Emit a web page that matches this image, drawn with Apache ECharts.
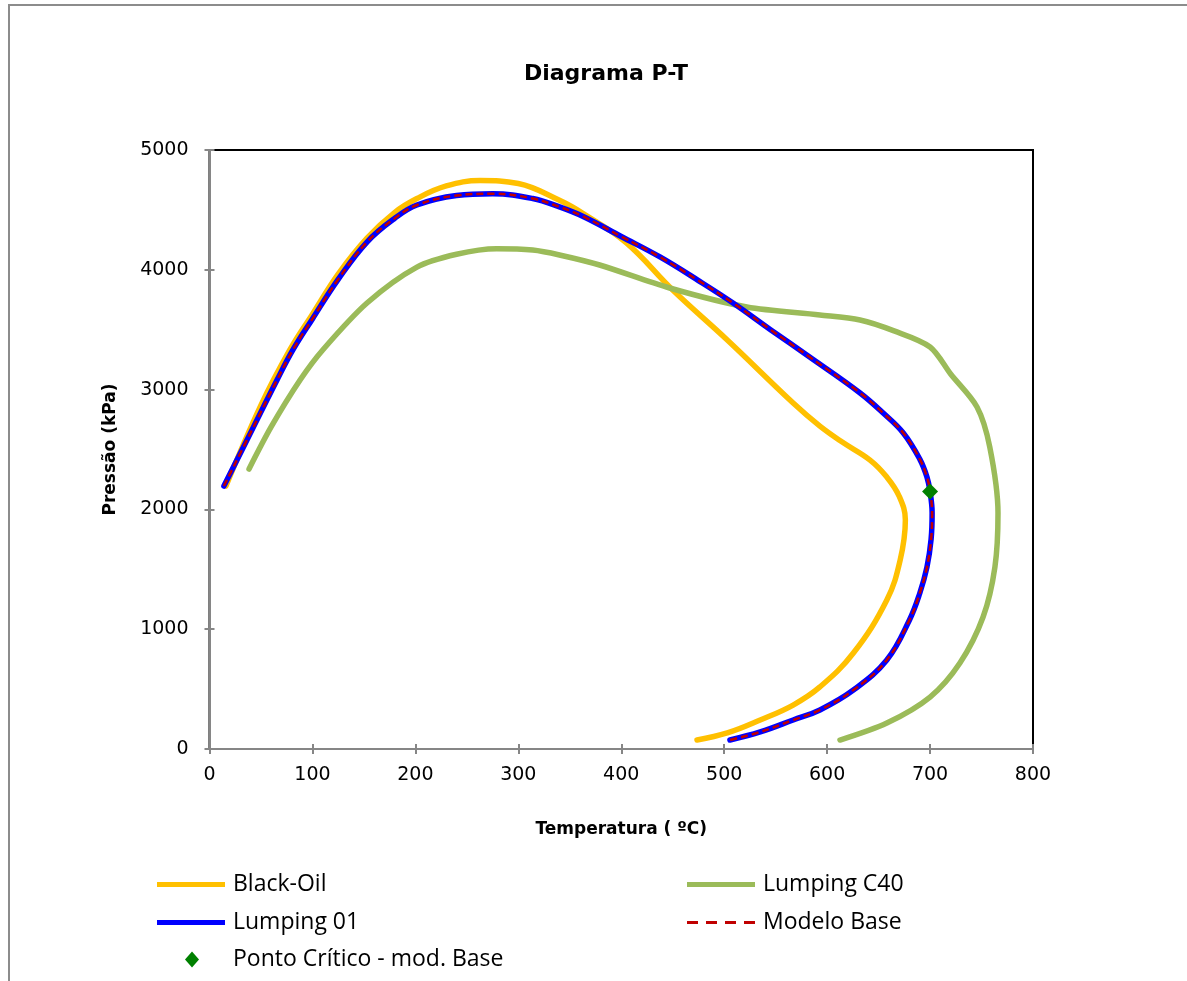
<!DOCTYPE html>
<html>
<head>
<meta charset="utf-8">
<script src="https://cdn.jsdelivr.net/npm/echarts@6/dist/echarts.min.js"></script>
<style>
html,body{margin:0;padding:0;background:#fff;}
#chart{width:1187px;height:981px;}
</style>
</head>
<body>
<div id="chart"></div>
<script>
// ---- data (T in ºC, P in kPa) ----
const titleText = 'Diagrama P-T';
const xName = 'Temperatura ( ºC)';
const yName = 'Pressão (kPa)';
const xTicks = [0, 100, 200, 300, 400, 500, 600, 700, 800];
const yTicks = [0, 1000, 2000, 3000, 4000, 5000];
const seriesNames = ['Black-Oil', 'Lumping C40', 'Lumping 01', 'Modelo Base', 'Ponto Crítico - mod. Base'];

const blackOil = [
  [16,2195],[50,2870],[78,3331],[100,3630],[125,3965],[153,4265],[180,4480],[201.5,4595],[230,4700],
  [263,4745],[300,4720],[340,4580],[363,4470],[405,4224],[450,3831],[503,3414],[567,2888],
  [593,2695],[615,2560],[641.7,2412],[658,2270],[670,2110],[676,1911],[671,1578],[658,1244],[625.5,801],
  [593,518],[567,367],[535,242],[503,134],[473.6,75]
];
const lumpingC40 = [
  [38.4,2337],[60,2690],[88,3080],[110,3331],[153,3723],[201.5,4023],[240,4130],[279,4176],
  [314,4165],[340,4124],[379,4040],[447,3848],[522,3689],[593,3623],[632,3581],[665,3490],
  [700,3356],[720,3130],[745.6,2855],[758,2521],[766,1970],[763,1519],[751.5,1102],[729,718],
  [700,434],[658,217],[612.5,75]
];
const lumping01 = [
  [14,2195],[40,2641],[65.6,3080],[81,3331],[100,3590],[125,3920],[153,4232],[180,4430],[201.5,4541],
  [240,4620],[275,4635],[314,4595],[340,4525],[363,4445],[400,4278],[437.6,4107],[475,3910],
  [508.6,3723],[545,3500],[583,3272],[632,2972],[655,2800],[674,2638],[690,2420],[697,2270],
  [700,2148],[702,1970],[701,1750],[697,1519],[690,1300],[680,1077],[658,743],[625.5,492],
  [593,326],[567,242],[535,142],[505.6,75]
];
const modeloBase = [
  [14,2195],[40,2641],[65.6,3080],[81,3331],[100,3590],[125,3920],[153,4232],[180,4430],[201.5,4541],
  [240,4620],[275,4635],[314,4595],[340,4525],[363,4445],[400,4278],[437.6,4107],[475,3910],
  [508.6,3723],[545,3500],[583,3272],[632,2972],[655,2800],[674,2638],[690,2420],[697,2270],
  [700,2148],[702,1970],[701,1750],[697,1519],[690,1300],[680,1077],[658,743],[625.5,492],
  [593,326],[567,242],[535,142],[505.6,75]
];
const pontoCritico = [[700,2150]];

// ---- chart ----
const chart = echarts.init(document.getElementById('chart'), null, {renderer:'canvas'});
const xMin = xTicks[0], xMax = xTicks[xTicks.length-1], xStep = xTicks[1]-xTicks[0];
const yMin = yTicks[0], yMax = yTicks[yTicks.length-1], yStep = yTicks[1]-yTicks[0];
const tickFont = {fontFamily:'DejaVu Sans', fontSize:19, color:'#000'};
const legendFont = {fontFamily:'Open Sans', fontSize:23, color:'#000', padding:[0,0,0,3]};
const gray = '#868686';
const solidIcon = 'path://M0,0H68V5H0Z';
const dashIcon = 'path://M0,0h11v3h-11z M19,0h11v3h-11z M38,0h11v3h-11z M57,0h11v3h-11z';

function leg(name, icon, left, top, w, h, textStyle) {
  return {data:[{name:name, icon:icon}], left:left, top:top, itemWidth:w, itemHeight:h, itemGap:0,
          textStyle:textStyle || legendFont, selectedMode:false, padding:0,
          itemStyle:{opacity:1}};
}

const option = {
  animation:false,
  backgroundColor:'#fff',
  title:{text:titleText, left:601, top:58, textAlign:'center',
         textStyle:{fontFamily:'DejaVu Sans', fontWeight:'bold', fontSize:22, color:'#000'}},
  grid:{left:209.5, top:150, right:154, bottom:232, show:true, borderColor:'#000', borderWidth:2, backgroundColor:'transparent'},
  xAxis:[{
    type:'value', min:xMin, max:xMax, interval:xStep,
    name:xName, nameLocation:'middle', nameGap:72,
    nameTextStyle:{fontFamily:'DejaVu Sans', fontWeight:'bold', fontSize:17, color:'#000'},
    axisLine:{show:true, onZero:false, lineStyle:{color:gray, width:2}},
    axisTick:{show:true, length:5, lineStyle:{color:gray, width:2}},
    axisLabel:Object.assign({margin:17, formatter:v => String(v)}, tickFont),
    splitLine:{show:false}
  },{
    type:'value', min:xMin, max:xMax, interval:xStep, position:'bottom',
    axisLine:{show:false}, axisLabel:{show:false}, splitLine:{show:false},
    axisTick:{show:true, inside:true, length:5, lineStyle:{color:gray, width:2}}
  }],
  yAxis:[{
    type:'value', min:yMin, max:yMax, interval:yStep,
    name:yName, nameLocation:'middle', nameGap:90,
    nameTextStyle:{fontFamily:'DejaVu Sans', fontWeight:'bold', fontSize:17, color:'#000'},
    axisLine:{show:true, onZero:false, lineStyle:{color:gray, width:2}},
    axisTick:{show:true, length:5, lineStyle:{color:gray, width:2}},
    axisLabel:Object.assign({margin:21, formatter:v => String(v)}, tickFont),
    splitLine:{show:false}
  },{
    type:'value', min:yMin, max:yMax, interval:yStep, position:'left',
    axisLine:{show:false}, axisLabel:{show:false}, splitLine:{show:false},
    axisTick:{show:true, inside:true, length:5, lineStyle:{color:gray, width:2}}
  }],
  legend:[
    leg(seriesNames[0], solidIcon, 157, 873, 68, 5),
    leg(seriesNames[2], solidIcon, 157, 911, 68, 5),
    leg(seriesNames[4], 'diamond', 185, 948, 14, 16, Object.assign({}, legendFont, {padding:[0,0,0,29]})),
    leg(seriesNames[1], solidIcon, 687, 873, 68, 5),
    leg(seriesNames[3], dashIcon, 687, 911, 68, 3)
  ],
  series:[
    {name:seriesNames[0], type:'line', data:blackOil, smooth:0.4, symbol:'none',
     lineStyle:{color:'#FFC000', width:5.5, cap:'round', join:'round'}, itemStyle:{color:'#FFC000'}, z:2},
    {name:seriesNames[1], type:'line', data:lumpingC40, smooth:0.3, symbol:'none',
     lineStyle:{color:'#9BBB59', width:5.5, cap:'round', join:'round'}, itemStyle:{color:'#9BBB59'}, z:3},
    {name:seriesNames[2], type:'line', data:lumping01, smooth:0.4, symbol:'none',
     lineStyle:{color:'#0000FF', width:5.5, cap:'round', join:'round'}, itemStyle:{color:'#0000FF'}, z:4},
    {name:seriesNames[3], type:'line', data:modeloBase, smooth:0.4, symbol:'none',
     lineStyle:{color:'#C00000', width:2.5, type:[7,4]}, itemStyle:{color:'#C00000'}, z:5},
    {name:seriesNames[4], type:'scatter', data:pontoCritico, symbol:'diamond', symbolSize:[16,16],
     itemStyle:{color:'#008000', opacity:1}, z:6}
  ],
  graphic:[{type:'rect', shape:{x:9, y:5, width:1300, height:1100},
            style:{fill:'none', stroke:'#8c8c8c', lineWidth:2}, silent:true, z:-1}]
};
chart.setOption(option);
</script>
</body>
</html>
